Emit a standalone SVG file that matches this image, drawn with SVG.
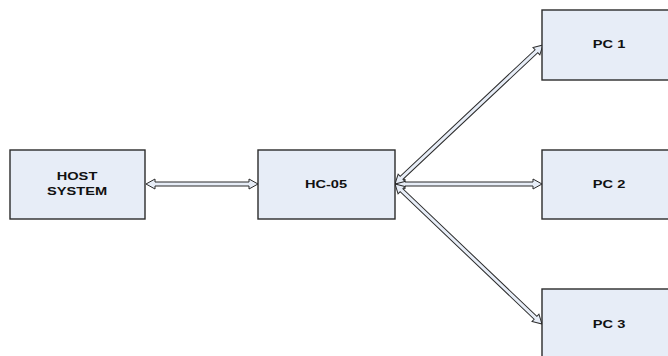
<svg xmlns="http://www.w3.org/2000/svg" width="668" height="356" viewBox="0 0 668 356">
  <style>
    .box { fill: #e7edf7; stroke: #2b2b2b; stroke-width: 1.4; }
    .lbl { font-family: "Liberation Sans", Arial, sans-serif; font-size: 11px; font-weight: bold; fill: #111; text-anchor: middle; }
    .arr { fill: #e7edf7; stroke: #2b2b2b; stroke-width: 1; stroke-linejoin: miter; }
  </style>
  <rect width="668" height="356" fill="#ffffff"/>

  <g id="connectors">
    <!-- double-headed block arrows drawn along +x then placed -->
    <polygon class="arr" transform="translate(146,184)" points="0,0 9,-5 9,-2 103,-2 103,-5 112,0 103,5 103,2 9,2 9,5"/>
    <polygon class="arr" transform="translate(396,184)" points="0,0 9,-5 9,-2 137,-2 137,-5 146,0 137,5 137,2 9,2 9,5"/>
    <polygon class="arr" transform="translate(395,184) rotate(-43.2)" points="0,0 9,-5 9,-2 194,-2 194,-5 203,0 194,5 194,2 9,2 9,5"/>
    <polygon class="arr" transform="translate(395,184) rotate(43.6)" points="0,0 9,-5 9,-2 194,-2 194,-5 203,0 194,5 194,2 9,2 9,5"/>
  </g>

  <!-- labels are set in a horizontally widened bold face -->
  <g id="host">
    <rect class="box" x="10" y="150" width="135" height="69"/>
    <text class="lbl" transform="translate(77,180) scale(1.33,1)">HOST</text>
    <text class="lbl" transform="translate(77,195) scale(1.33,1)">SYSTEM</text>
  </g>
  <g id="hc05">
    <rect class="box" x="258" y="150" width="137" height="69"/>
    <text class="lbl" transform="translate(326,188) scale(1.33,1)">HC-05</text>
  </g>
  <g id="pc1">
    <rect class="box" x="542" y="10" width="130" height="70"/>
    <text class="lbl" transform="translate(609,48) scale(1.33,1)">PC 1</text>
  </g>
  <g id="pc2">
    <rect class="box" x="542" y="150" width="130" height="69"/>
    <text class="lbl" transform="translate(609,188) scale(1.33,1)">PC 2</text>
  </g>
  <g id="pc3">
    <rect class="box" x="542" y="289" width="130" height="70"/>
    <text class="lbl" transform="translate(609,328) scale(1.33,1)">PC 3</text>
  </g>
</svg>
